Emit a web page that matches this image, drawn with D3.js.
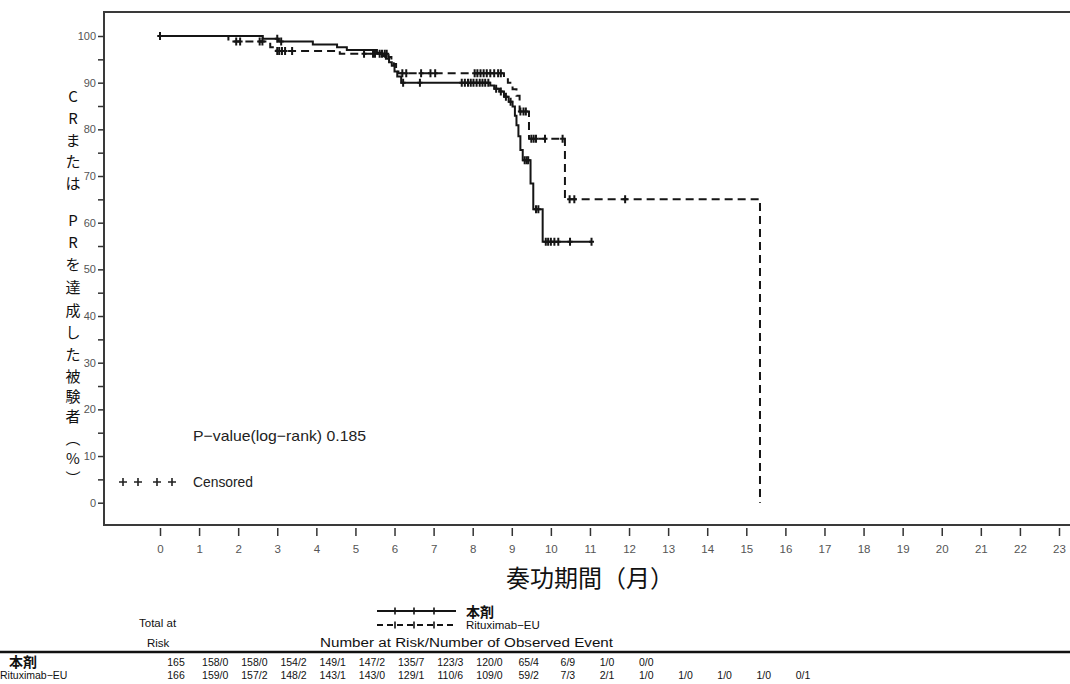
<!DOCTYPE html>
<html>
<head>
<meta charset="utf-8">
<script src="https://cdn.jsdelivr.net/npm/d3@7"></script>
<style>
  body { margin: 0; background: #fff; }
  svg { display: block; }
</style>
</head>
<body>
<svg id="chart" width="1070" height="684"></svg>
<script>
// Kaplan–Meier estimates: [month, % of subjects with CR or PR]
const drugSteps = [
  [0, 100], [2.63, 99.4], [3.04, 98.8], [3.91, 98.2], [4.53, 97.6], [4.78, 97.0],
  [5.55, 96.4], [5.68, 95.7], [5.78, 95.1], [5.86, 94.4], [5.93, 93.6], [6.00, 92.4],
  [6.07, 91.3], [6.17, 90.0], [8.45, 89.4], [8.55, 88.7], [8.68, 88.1], [8.80, 87.0],
  [8.92, 85.9], [9.02, 84.9], [9.08, 82.9], [9.12, 80.9], [9.17, 78.5], [9.22, 75.6],
  [9.28, 73.4], [9.48, 68.4], [9.55, 62.9], [9.79, 55.9]
];
const drugLastFollowUp = 11.04;
const drugCensored = [
  0, 3.0, 3.1, 6.22, 6.65, 7.72, 7.8, 7.88, 7.95, 8.02, 8.1, 8.18, 8.25, 8.32, 8.4,
  8.6, 8.72, 8.85, 8.97, 9.33, 9.38, 9.42, 9.62, 9.68, 9.87, 9.93, 10.0, 10.09,
  10.19, 10.49, 11.04
];

const rituxSteps = [
  [0, 100], [1.75, 98.8], [2.82, 97.6], [2.98, 96.8], [4.6, 96.2], [5.85, 95.5],
  [5.92, 94.8], [5.98, 94.0], [6.04, 93.0], [6.10, 92.0], [8.80, 91.2], [8.90, 90.0],
  [9.02, 88.6], [9.12, 87.2], [9.20, 83.8], [9.44, 78.0], [10.36, 65.0], [15.35, 0]
];
const rituxLastFollowUp = 15.35;
const rituxCensored = [
  0, 1.95, 2.05, 2.55, 2.62, 3.0, 3.05, 3.12, 3.2, 3.38, 5.22, 5.45, 5.5, 5.62, 5.68,
  5.75, 5.8, 6.2, 6.3, 6.68, 6.92, 7.04, 8.05, 8.12, 8.2, 8.28, 8.36, 8.45, 8.55,
  8.65, 8.72, 9.22, 9.3, 9.36, 9.5, 9.56, 9.62, 9.85, 10.3, 10.48, 10.6, 11.9
];

// Axis ticks
const monthTicks = d3.range(0, 24);
const percentTicks = d3.range(0, 101, 5);

// Number at risk / number of observed events
const drugRisk = ["165", "158/0", "158/0", "154/2", "149/1", "147/2", "135/7", "123/3",
  "120/0", "65/4", "6/9", "1/0", "0/0"];
const rituxRisk = ["166", "159/0", "157/2", "148/2", "143/1", "143/0", "129/1", "110/6",
  "109/0", "59/2", "7/3", "2/1", "1/0", "1/0", "1/0", "1/0", "0/1"];

const groupNames = ["本剤", "Rituximab−EU"];
const pValueText = "P−value(log−rank)  0.185";
const yTitleChars = [
  ["C", 95], ["R", 117], ["ま", 139], ["た", 160], ["は", 182],
  ["P", 219], ["R", 241], ["を", 263], ["達", 286], ["成", 309], ["し", 331],
  ["た", 353], ["被", 375], ["験", 395], ["者", 415], ["︵", 437], ["%", 457], ["︶", 477]
];

const svg = d3.select("#chart");
const frame = { left: 104, top: 12, bottom: 525, right: 1072 };
const ink = "#151515";
const latin = "'Liberation Sans', Arial, sans-serif";
const cjk = "'Noto Sans CJK JP', 'Noto Sans', sans-serif";

const x = d3.scaleLinear().domain([0, 23]).range([160, 1059]);
const y = d3.scaleLinear().domain([0, 100]).range([502.7, 36]);

svg.append("rect").attr("width", 1070).attr("height", 684).attr("fill", "#fff");

// Plot frame
svg.append("rect")
  .attr("x", frame.left).attr("y", frame.top)
  .attr("width", frame.right - frame.left).attr("height", frame.bottom - frame.top)
  .attr("fill", "none").attr("stroke", "#3a3a3a").attr("stroke-width", 2);

// Y axis
const yAxis = d3.axisLeft(y).tickValues(percentTicks).tickSize(6).tickPadding(2)
  .tickFormat(d => d % 10 === 0 ? d : "");
const gy = svg.append("g").attr("transform", `translate(${frame.left},0)`).call(yAxis);
gy.select(".domain").remove();
gy.selectAll(".tick line").attr("stroke", "#333").attr("stroke-width", 1.5);
gy.selectAll(".tick text").attr("font-family", latin)
  .attr("font-size", 11).attr("fill", "#555");

// X axis, offset below the frame
const xAxis = d3.axisBottom(x).tickValues(monthTicks).tickSize(8).tickPadding(9);
const gx = svg.append("g").attr("transform", `translate(0,${frame.bottom + 3})`).call(xAxis);
gx.select(".domain").remove();
gx.selectAll(".tick line").attr("stroke", "#333").attr("stroke-width", 1.5);
gx.selectAll(".tick text").attr("font-family", latin)
  .attr("font-size", 11.5).attr("fill", "#555");

// Axis titles
svg.append("text")
  .attr("x", 590).attr("y", 587).attr("text-anchor", "middle")
  .attr("font-family", cjk).attr("font-size", 24).attr("fill", "#111")
  .text("奏功期間（月）");

svg.append("g").selectAll("text").data(yTitleChars).join("text")
  .attr("x", 73).attr("y", d => d[1])
  .attr("text-anchor", "middle").attr("dominant-baseline", "central")
  .attr("font-family", cjk).attr("font-size", 15).attr("fill", "#111")
  .text(d => d[0]);

// Survival step curves
function survivalAt(steps, t) {
  let v = steps[0][1];
  for (const [st, sv] of steps) { if (st <= t) v = sv; else break; }
  return v;
}
const stepLine = d3.line().x(d => x(d[0])).y(d => y(d[1])).curve(d3.curveStepAfter);

function drawGroup(steps, lastT, censored, dash) {
  const pts = steps.slice();
  if (pts[pts.length - 1][0] < lastT) pts.push([lastT, pts[pts.length - 1][1]]);
  svg.append("path").datum(pts)
    .attr("d", stepLine)
    .attr("fill", "none").attr("stroke", ink).attr("stroke-width", 2)
    .attr("stroke-dasharray", dash);
  svg.append("g").selectAll("path").data(censored).join("path")
    .attr("d", t => {
      const cx = x(t), cy = y(survivalAt(steps, t));
      return `M${cx},${cy - 4}V${cy + 4}M${cx - 2.5},${cy}H${cx + 2.5}`;
    })
    .attr("stroke", ink).attr("stroke-width", 2).attr("fill", "none");
}
drawGroup(drugSteps, drugLastFollowUp, drugCensored, null);
drawGroup(rituxSteps, rituxLastFollowUp, rituxCensored, "8,5");

// In-plot annotations
svg.append("text").attr("x", 193).attr("y", 441)
  .attr("font-family", latin).attr("font-size", 15).attr("fill", "#222")
  .attr("textLength", 173).attr("lengthAdjust", "spacingAndGlyphs")
  .text(pValueText);
const censorKeyX = [123, 138, 157, 172];
svg.append("g").selectAll("path").data(censorKeyX).join("path")
  .attr("d", cx => `M${cx},478V486M${cx - 4},482H${cx + 4}`)
  .attr("stroke", "#222").attr("stroke-width", 1.6);
svg.append("text").attr("x", 193).attr("y", 487)
  .attr("font-family", latin).attr("font-size", 15).attr("fill", "#222")
  .attr("textLength", 60).attr("lengthAdjust", "spacingAndGlyphs")
  .text("Censored");

// Legend
const legend = svg.append("g");
const legendRows = [
  { y: 611, dash: null, name: groupNames[0], tx: 466, font: cjk, size: 14, weight: "bold" },
  { y: 625, dash: "6,4", name: groupNames[1], tx: 466, font: latin, size: 11.5, weight: "normal" }
];
legendRows.forEach(r => {
  legend.append("line").attr("x1", 377).attr("x2", 456).attr("y1", r.y).attr("y2", r.y)
    .attr("stroke", ink).attr("stroke-width", 1.8).attr("stroke-dasharray", r.dash);
  [395, 414, 434].forEach(cx => legend.append("line")
    .attr("x1", cx).attr("x2", cx).attr("y1", r.y - 3.5).attr("y2", r.y + 3.5)
    .attr("stroke", ink).attr("stroke-width", 1.6));
  legend.append("text").attr("x", r.tx).attr("y", r.y).attr("dominant-baseline", "central")
    .attr("font-family", r.font).attr("font-size", r.size).attr("font-weight", r.weight)
    .attr("fill", "#111").text(r.name);
});

// Risk table
const tbl = svg.append("g").attr("font-family", latin).attr("fill", "#111");
tbl.append("text").attr("x", 139).attr("y", 627).attr("font-size", 11.5).text("Total at");
tbl.append("text").attr("x", 147).attr("y", 647).attr("font-size", 11.5).text("Risk");
tbl.append("text").attr("x", 320).attr("y", 647).attr("font-size", 12)
  .attr("textLength", 293).attr("lengthAdjust", "spacingAndGlyphs")
  .text("Number at Risk/Number of Observed Event");
tbl.append("line").attr("x1", 0).attr("x2", 1070).attr("y1", 652).attr("y2", 652)
  .attr("stroke", "#111").attr("stroke-width", 2.5);

const riskCol = d3.scaleLinear().domain([0, 16]).range([176, 803]);
tbl.append("text").attr("x", 9).attr("y", 667).attr("font-family", cjk)
  .attr("font-size", 14).attr("font-weight", "bold").text(groupNames[0]);
tbl.append("text").attr("x", 0).attr("y", 679).attr("font-size", 10.5).text(groupNames[1]);
[[drugRisk, 666], [rituxRisk, 679]].forEach(([row, yy]) => {
  tbl.append("g").selectAll("text").data(row).join("text")
    .attr("x", (d, i) => riskCol(i)).attr("y", yy)
    .attr("text-anchor", "middle").attr("font-size", 10.5).text(d => d);
});
</script>
</body>
</html>
